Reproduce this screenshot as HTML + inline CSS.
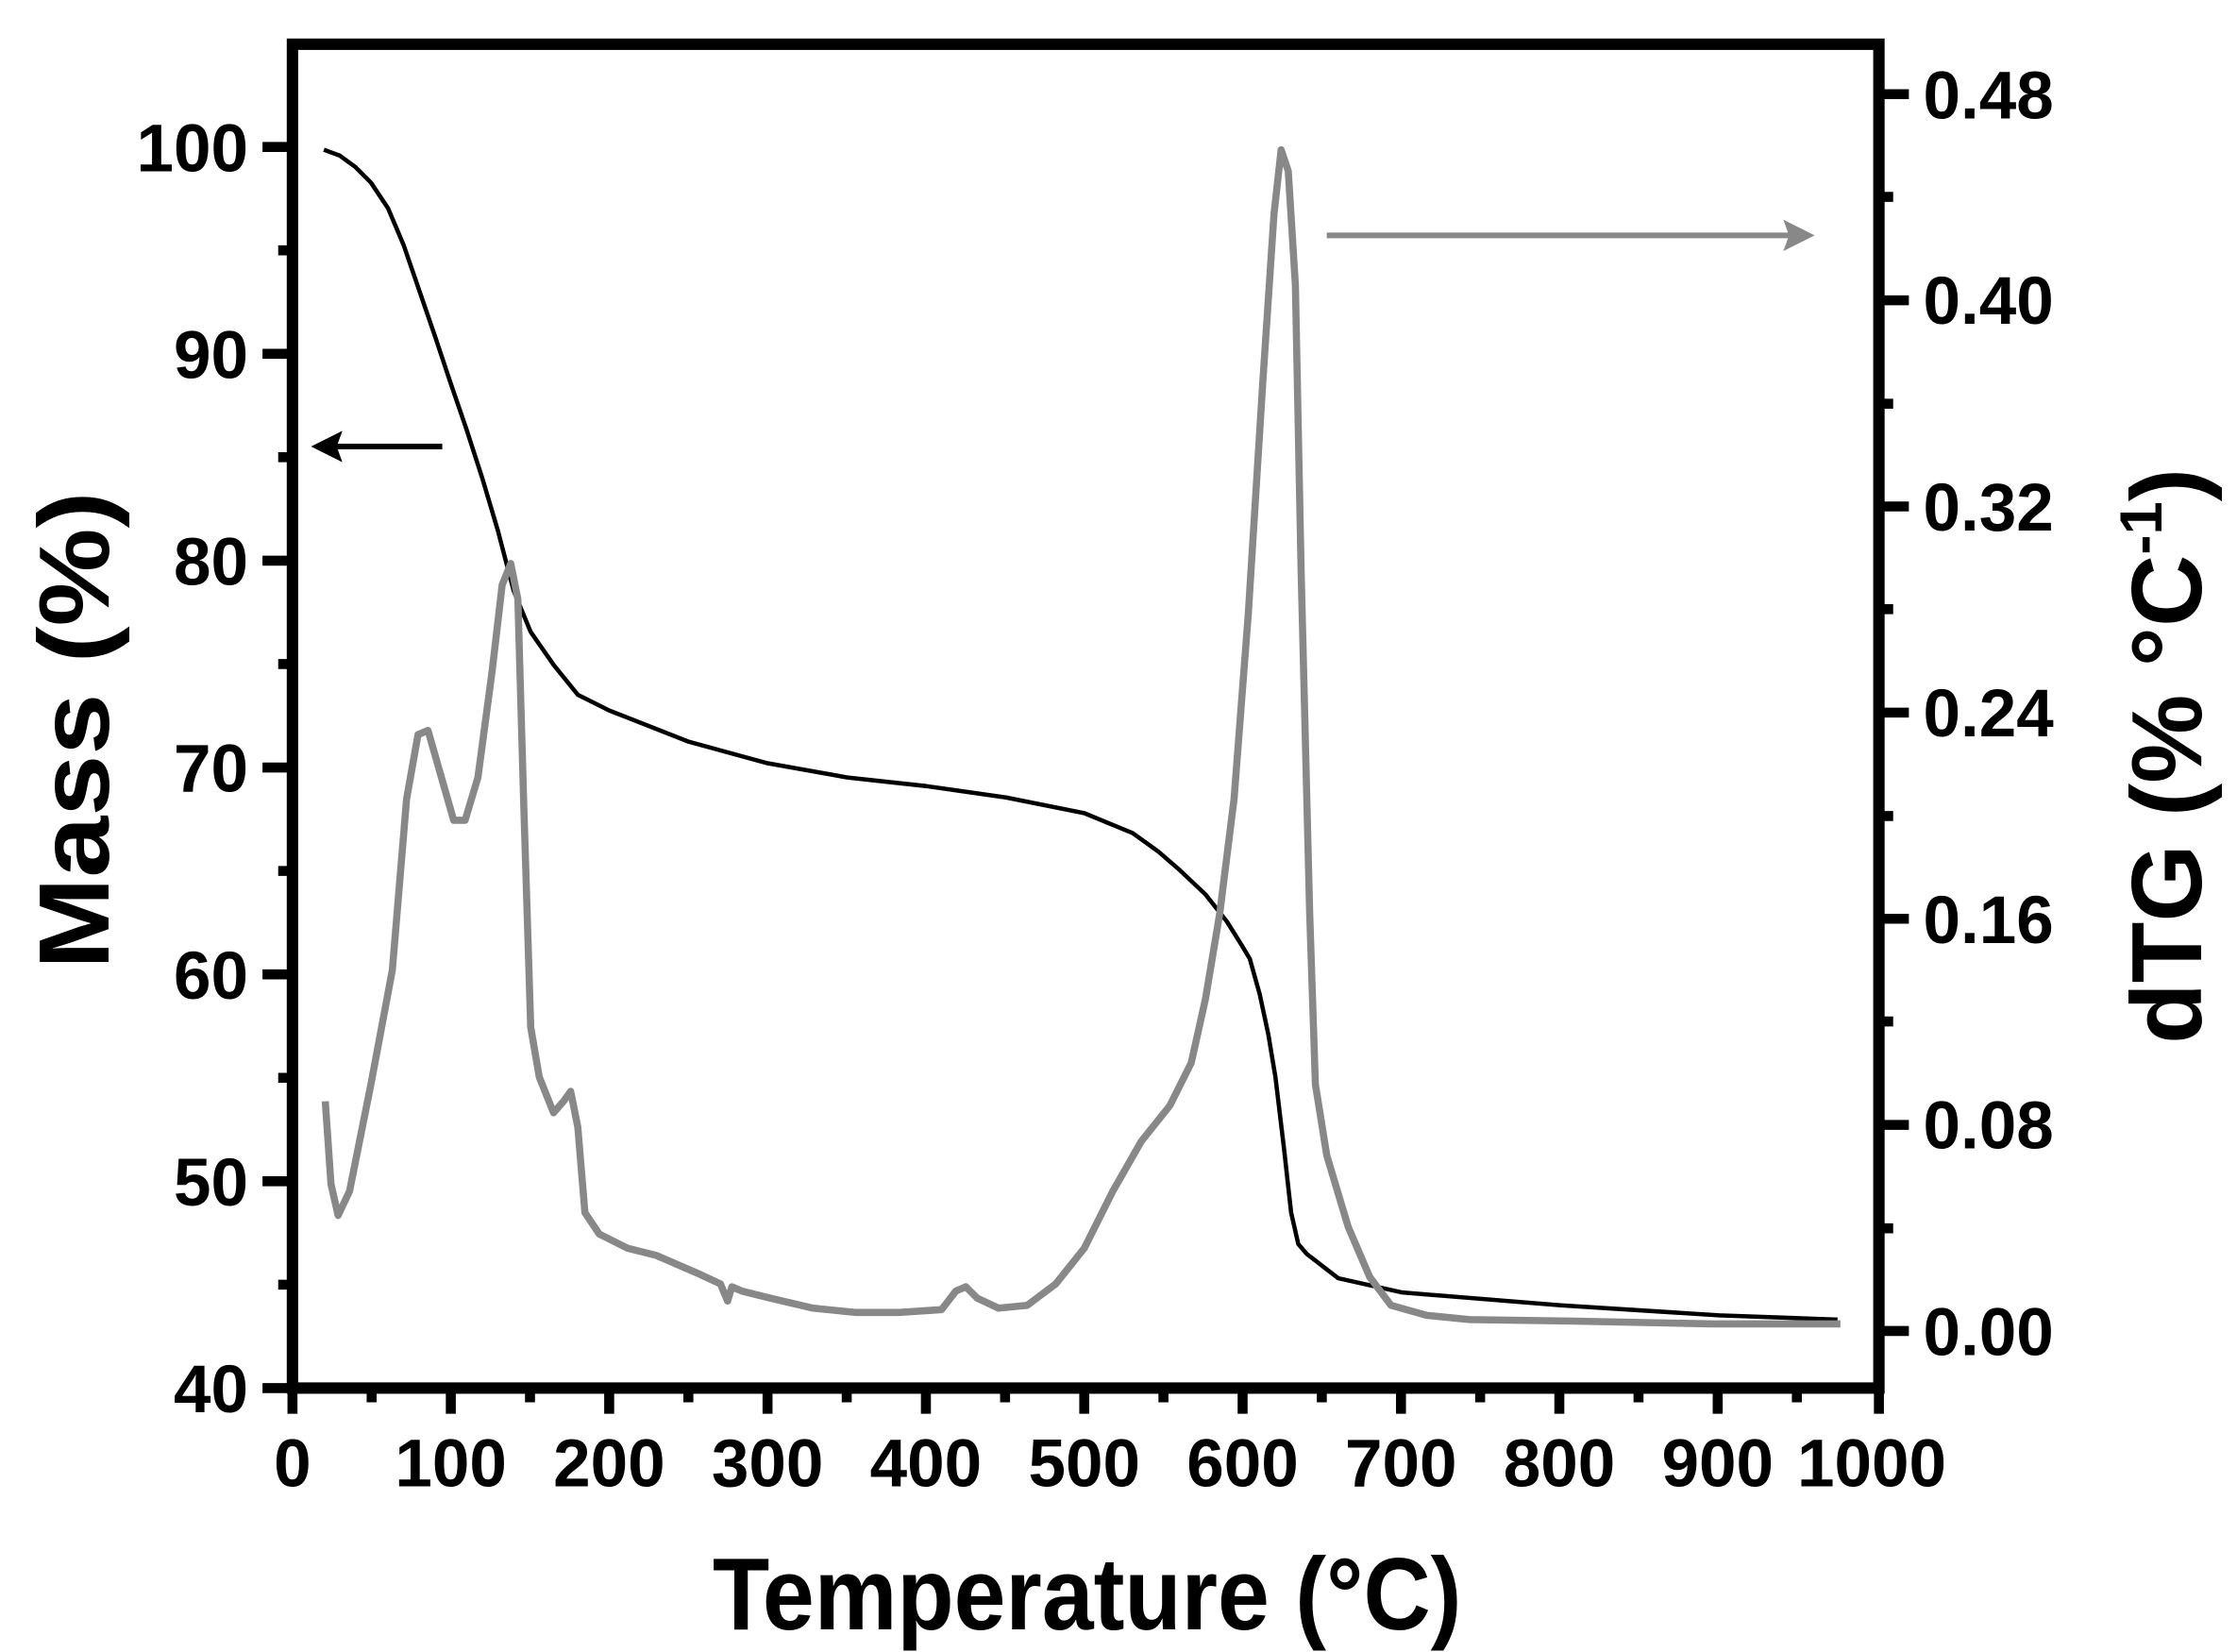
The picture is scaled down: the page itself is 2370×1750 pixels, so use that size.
<!DOCTYPE html>
<html><head><meta charset="utf-8"><style>html,body{margin:0;padding:0;background:#fff}svg{display:block}</style></head>
<body>
<svg width="2370" height="1750" viewBox="0 0 1568 1158" preserveAspectRatio="none" xmlns="http://www.w3.org/2000/svg" font-family="Liberation Sans, Arial, sans-serif" font-weight="bold">
<rect x="0" y="0" width="1568" height="1158" fill="#fff"/>
<rect x="205" y="31" width="1112" height="942" fill="none" stroke="#000" stroke-width="8"/>
<g stroke="#000" stroke-width="7">
<path d="M205,973v18M316,973v18M427,973v18M538,973v18M649,973v18M760,973v18M871,973v18M982,973v18M1093,973v18M1204,973v18M1317,973v18"/>
<path d="M260.5,973v10M371.5,973v10M482.5,973v10M593.5,973v10M704.5,973v10M815.5,973v10M926.5,973v10M1037.5,973v10M1148.5,973v10M1259.5,973v10"/>
<path d="M205,103h-21M205,248h-21M205,393h-21M205,538h-21M205,683h-21M205,828h-21M205,973h-21"/>
<path d="M205,175.5h-10M205,320.5h-10M205,465.5h-10M205,610.5h-10M205,755.5h-10M205,900.5h-10"/>
<path d="M1317,66h21M1317,210.5h21M1317,355h21M1317,499.5h21M1317,644h21M1317,788.5h21M1317,933h21"/>
<path d="M1317,138h10M1317,283h10M1317,427h10M1317,572h10M1317,716h10M1317,861h10"/>
</g>
<g font-size="47" text-anchor="middle" fill="#000">
<text x="205" y="1042">0</text><text x="316" y="1042">100</text><text x="427" y="1042">200</text><text x="538" y="1042">300</text><text x="649" y="1042">400</text><text x="760" y="1042">500</text><text x="871" y="1042">600</text><text x="982" y="1042">700</text><text x="1093" y="1042">800</text><text x="1204" y="1042">900</text><text x="1312" y="1042">1000</text>
</g>
<g font-size="47" text-anchor="end" fill="#000">
<text x="174" y="120">100</text><text x="174" y="265">90</text><text x="174" y="410">80</text><text x="174" y="555">70</text><text x="174" y="700">60</text><text x="174" y="845">50</text><text x="174" y="990">40</text>
</g>
<g font-size="47" fill="#000">
<text x="1348" y="83">0.48</text><text x="1348" y="227">0.40</text><text x="1348" y="372">0.32</text><text x="1348" y="516">0.24</text><text x="1348" y="661">0.16</text><text x="1348" y="805">0.08</text><text x="1348" y="950">0.00</text>
</g>
<text x="762" y="1142" font-size="72" text-anchor="middle" textLength="525" lengthAdjust="spacingAndGlyphs">Temperature (°C)</text>
<text transform="translate(76,512) rotate(-90)" font-size="70" text-anchor="middle" textLength="335" lengthAdjust="spacingAndGlyphs">Mass (%)</text>
<text transform="translate(1543,530) rotate(-90)" font-size="70" text-anchor="middle" fill="#000">dTG (% °C<tspan font-size="42" dy="-28">-1</tspan><tspan dy="28">)</tspan></text>
<polyline fill="none" stroke="#000" stroke-width="3" stroke-linejoin="round" points="227,105 238,109 249,117 260,128 272,146 283,172 294,204 305,236 316,269 327,301 338,335 349,372 360,414 372,443 388,466 405,487 427,498 483,520 538,535 594,545 649,551 705,559 760,570 794,584 812,597 827,610 845,627 860,646 870,662 876,672 883,697 889,725 894,755 900,805 905,850 910,872 916,879 938,896 983,906 1094,915 1205,922 1288,925"/>
<polyline fill="none" stroke="#888" stroke-width="5" stroke-linejoin="round" points="228,772 232,830 237,852 245,835 260,760 275,680 285,560 293,515 300,512 308,540 318,575 326,575 335,545 345,470 352,410 358,395 363,420 367,560 372,720 378,755 388,780 395,772 400,765 405,790 410,850 420,865 440,875 460,880 490,893 505,900 510,912 513,902 520,905 540,910 570,917 600,920 630,920 660,918 670,905 677,902 685,910 700,917 720,915 740,900 760,875 780,835 800,800 820,775 835,745 845,700 855,640 865,560 875,430 885,270 893,150 898,105 903,120 908,200 912,400 918,640 922,760 930,810 945,860 960,895 975,915 1000,922 1030,925 1100,926 1200,928 1290,928"/>
<line x1="310" y1="313" x2="232" y2="313" stroke="#000" stroke-width="4"/>
<polygon points="218,313 240,302 236,313 240,324" fill="#000"/>
<line x1="930" y1="165" x2="1258" y2="165" stroke="#888" stroke-width="4"/>
<polygon points="1272,165 1250,154 1254,165 1250,176" fill="#888"/>
</svg>
</body></html>
